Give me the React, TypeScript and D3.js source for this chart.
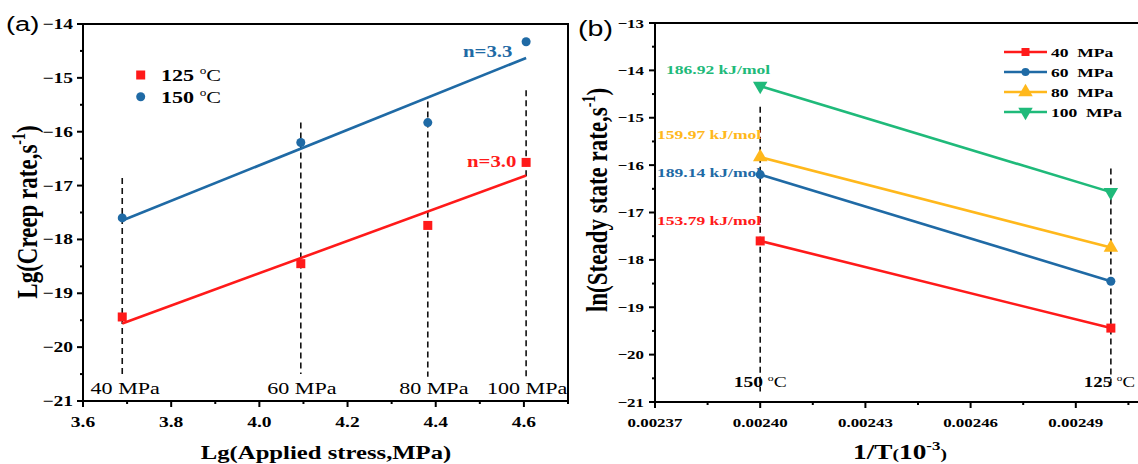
import React, { useEffect } from 'react';
import * as d3 from 'd3';

// ---------- data ----------
const pressureLabels = ['40 MPa', '60 MPa', '80 MPa', '100 MPa'];
const lgStress = [3.689, 4.094, 4.382, 4.605];
const rate125 = [-19.44, -18.45, -17.74, -16.57];
const rate150 = [-17.6, -16.2, -15.83, -14.33];
const guideTopA = [-16.86, -15.83, -15.44, -15.23];
const guideBottomA = [-20.5, -20.5, -20.55, -20.55];
const nLabels = ['n=3.0', 'n=3.3'];
const tempLegend = ['125', '150'];

const invT = [0.0024, 0.0025]; // 150 °C, 125 °C
const tempLabelsB = ['150', '125'];
const guideTopB = [-14.77, -16.07];
const guideBottomB = [-20.78, -20.6];
const energyLabels = ['153.79 kJ/mol', '189.14 kJ/mol', '159.97 kJ/mol', '186.92 kJ/mol'];

const xTicksA = [3.6, 3.8, 4.0, 4.2, 4.4, 4.6];
const xMinorA = [3.7, 3.9, 4.1, 4.3, 4.5, 4.7];
const yTicksA = [-21, -20, -19, -18, -17, -16, -15, -14];
const yMinorA = [-20.5, -19.5, -18.5, -17.5, -16.5, -15.5, -14.5];
const xTicksB = [0.00237, 0.0024, 0.00243, 0.00246, 0.00249];
const xMinorB = [0.002385, 0.002415, 0.002445, 0.002475, 0.002505];
const yTicksB = [-21, -20, -19, -18, -17, -16, -15, -14, -13];
const yMinorB = [-20.5, -19.5, -18.5, -17.5, -16.5, -15.5, -14.5, -13.5];

// ---------- style ----------
const RED = '#FF1A1A';
const BLUE = '#1F6AA5';
const YELLOW = '#FFB81C';
const GREEN = '#1FBA7A';
const seriesColors = [RED, BLUE, YELLOW, GREEN];
const SERIF = '"Liberation Serif", "Times New Roman", serif';
const SANS = '"Liberation Sans", Arial, sans-serif';
const SX = 1.3;

type TP = {
  x: number; y: number; size?: number; weight?: string | number; anchor?: string;
  fill?: string; family?: string; rotate?: boolean; children?: React.ReactNode;
};
function T({ x, y, size = 15, weight = 'bold', anchor = 'start', fill = '#000', family = SERIF, rotate = false, children }: TP) {
  const tr = `translate(${x},${y}) scale(${SX},1)` + (rotate ? ' rotate(-90)' : '');
  return (
    <text transform={tr} fontSize={size} fontWeight={weight} textAnchor={anchor as any} fill={fill} fontFamily={family}>
      {children}
    </text>
  );
}

function Deg({ size }: { size: number }) {
  return (
    <>
      <tspan fontWeight="normal"> </tspan>
      <tspan fontWeight="normal" fontSize={size * 0.6} dy={-size * 0.4}>o</tspan>
      <tspan fontWeight="normal" dy={size * 0.4}>C</tspan>
    </>
  );
}

function linreg(xs: number[], ys: number[]) {
  const mx = d3.mean(xs)!;
  const my = d3.mean(ys)!;
  let sxy = 0, sxx = 0;
  xs.forEach((x, i) => { sxy += (x - mx) * (ys[i] - my); sxx += (x - mx) * (x - mx); });
  const b = sxy / sxx;
  return (x: number) => my + b * (x - mx);
}

function Marker({ kind, x, y, color, s = 9 }: { kind: number; x: number; y: number; color: string; s?: number }) {
  if (kind === 0) return <rect x={x - s / 2} y={y - s / 2} width={s} height={s} fill={color} />;
  if (kind === 1) return <circle cx={x} cy={y} r={s / 2} fill={color} />;
  const sym = d3.symbol().type(d3.symbolTriangle).size(s * s * 0.75)();
  return <path d={sym!} transform={`translate(${x},${y}) rotate(${kind === 3 ? 180 : 0})`} fill={color} />;
}

export default function App() {
  useEffect(() => {
    document.body.style.margin = '0';
  }, []);

  // panel a
  const ax = d3.scaleLinear().domain([3.6, 4.7]).range([83, 568]);
  const ay = d3.scaleLinear().domain([-21, -14]).range([401, 24]);
  const fit125 = linreg(lgStress, rate125);
  const fit150 = linreg(lgStress, rate150);
  const x0 = lgStress[0], x1 = lgStress[lgStress.length - 1];

  // panel b
  const bx = d3.scaleLinear().domain([0.00237, 0.00252]).range([655, 1181]);
  const by = d3.scaleLinear().domain([-21, -13]).range([402, 23]);
  const bSeries = pressureLabels.map((_, i) => [rate150[i], rate125[i]]);
  const bLine = d3.line<number>().x((_, j) => bx(invT[j])).y((d) => by(d));
  const energyPos = [
    { x: 657, y: 225 },
    { x: 657, y: 177 },
    { x: 657, y: 139 },
    { x: 666, y: 74 },
  ];

  const dash = '6,4';

  return (
    <svg width={1138} height={464} style={{ display: 'block', background: '#fff' }}>
      {/* ================= PANEL A ================= */}
      <g>
        {lgStress.map((v, i) => (
          <line key={'ga' + i} x1={ax(v)} x2={ax(v)} y1={ay(guideTopA[i])} y2={ay(guideBottomA[i])}
            stroke="#111" strokeWidth={1.6} strokeDasharray={dash} />
        ))}
        <line x1={ax(x0)} y1={ay(fit125(x0))} x2={ax(x1)} y2={ay(fit125(x1))} stroke={RED} strokeWidth={2.6} />
        <line x1={ax(x0)} y1={ay(fit150(x0))} x2={ax(x1)} y2={ay(fit150(x1))} stroke={BLUE} strokeWidth={2.6} />
        {lgStress.map((v, i) => (
          <Marker key={'r' + i} kind={0} x={ax(v)} y={ay(rate125[i])} color={RED} s={9} />
        ))}
        {lgStress.map((v, i) => (
          <Marker key={'b' + i} kind={1} x={ax(v)} y={ay(rate150[i])} color={BLUE} s={9} />
        ))}
        {lgStress.map((v, i) => (
          <T key={'pl' + i} x={ax(v) + (i === 2 ? 6 : i === 0 ? 3 : 1)} y={394} size={17} weight="normal" anchor="middle">
            {pressureLabels[i]}
          </T>
        ))}
        <T x={467} y={167} size={16} fill={RED}>{nLabels[0]}</T>
        <T x={463} y={57} size={16} fill={BLUE}>{nLabels[1]}</T>
        <Marker kind={0} x={140.7} y={75} color={RED} s={9} />
        <Marker kind={1} x={140.7} y={96.7} color={BLUE} s={9} />
        <T x={161} y={81} size={17}>{tempLegend[0]}<Deg size={17} /></T>
        <T x={161} y={103} size={17}>{tempLegend[1]}<Deg size={17} /></T>

        <rect x={83} y={24} width={485} height={377} fill="none" stroke="#000" strokeWidth={2} />
        {xTicksA.map((t) => (
          <line key={'xt' + t} x1={ax(t)} x2={ax(t)} y1={401} y2={407} stroke="#000" strokeWidth={2} />
        ))}
        {xMinorA.map((t) => (
          <line key={'xm' + t} x1={ax(t)} x2={ax(t)} y1={401} y2={404} stroke="#000" strokeWidth={2} />
        ))}
        {yTicksA.map((t) => (
          <line key={'yt' + t} x1={77} x2={83} y1={ay(t)} y2={ay(t)} stroke="#000" strokeWidth={2} />
        ))}
        {yMinorA.map((t) => (
          <line key={'ym' + t} x1={80} x2={83} y1={ay(t)} y2={ay(t)} stroke="#000" strokeWidth={2} />
        ))}
        {xTicksA.map((t) => (
          <T key={'xl' + t} x={ax(t)} y={427} size={15} anchor="middle">{d3.format('.1f')(t)}</T>
        ))}
        {yTicksA.map((t) => (
          <T key={'yl' + t} x={73} y={ay(t) + 5} size={15} anchor="end">{d3.format('d')(t)}</T>
        ))}
        <T x={326} y={459} size={19} anchor="middle">Lg(Applied stress,MPa)</T>
        <T x={37} y={212} size={23} anchor="middle" rotate>
          Lg(Creep rate,s<tspan fontSize={14} dy={-9}>-1</tspan><tspan dy={9}>)</tspan>
        </T>
        <T x={6} y={31} size={21} weight="normal" family={SANS}>(a)</T>
      </g>

      {/* ================= PANEL B ================= */}
      <g>
        {invT.map((v, j) => (
          <line key={'gb' + j} x1={bx(v)} x2={bx(v)} y1={by(guideTopB[j])} y2={by(guideBottomB[j])}
            stroke="#111" strokeWidth={1.6} strokeDasharray={dash} />
        ))}
        {bSeries.map((s, i) => (
          <path key={'bl' + i} d={bLine(s) || ''} fill="none" stroke={seriesColors[i]} strokeWidth={2.6} />
        ))}
        {bSeries.map((s, i) =>
          s.map((v, j) => (
            <Marker key={'bm' + i + '-' + j} kind={i} x={bx(invT[j])} y={by(v)} color={seriesColors[i]} s={i >= 2 ? 11 : 9} />
          ))
        )}
        {energyLabels.map((e, i) => (
          <T key={'el' + i} x={energyPos[i].x} y={energyPos[i].y} size={13.5} fill={seriesColors[i]}>{e}</T>
        ))}
        <T x={bx(invT[0])} y={387} size={15} anchor="middle">{tempLabelsB[0]}<Deg size={15} /></T>
        <T x={1135} y={387} size={14.5} anchor="end">{tempLabelsB[1]}<Deg size={14.5} /></T>
        {pressureLabels.map((p, i) => (
          <g key={'lg' + i}>
            <line x1={1004} x2={1047} y1={52 + i * 20} y2={52 + i * 20} stroke={seriesColors[i]} strokeWidth={2.6} />
            <Marker kind={i} x={1025.5} y={52 + i * 20} color={seriesColors[i]} s={i >= 2 ? 11 : 8} />
            <T x={1051} y={57 + i * 20} size={13.5}>{p.replace(' ', '\u00a0\u00a0')}</T>
          </g>
        ))}
        <rect x={655} y={23} width={526} height={379} fill="none" stroke="#000" strokeWidth={2} />
        {xTicksB.map((t) => (
          <line key={'bxt' + t} x1={bx(t)} x2={bx(t)} y1={402} y2={408} stroke="#000" strokeWidth={2} />
        ))}
        {xMinorB.map((t) => (
          <line key={'bxm' + t} x1={bx(t)} x2={bx(t)} y1={402} y2={405} stroke="#000" strokeWidth={2} />
        ))}
        {yTicksB.map((t) => (
          <line key={'byt' + t} x1={649} x2={655} y1={by(t)} y2={by(t)} stroke="#000" strokeWidth={2} />
        ))}
        {yMinorB.map((t) => (
          <line key={'bym' + t} x1={652} x2={655} y1={by(t)} y2={by(t)} stroke="#000" strokeWidth={2} />
        ))}
        {xTicksB.map((t) => (
          <T key={'bxl' + t} x={bx(t)} y={427} size={13} anchor="middle">{d3.format('.5f')(t)}</T>
        ))}
        {yTicksB.map((t) => (
          <T key={'byl' + t} x={644} y={by(t) + 4.5} size={13} anchor="end">{d3.format('d')(t)}</T>
        ))}
        <T x={900} y={459} size={21} anchor="middle">
          1/T<tspan fontSize={15}>(</tspan>10<tspan fontSize={13} dy={-9}>-3</tspan><tspan fontSize={15} dy={9}>)</tspan>
        </T>
        <T x={607} y={200} size={23} anchor="middle" rotate>
          ln(Steady state rate,s<tspan fontSize={14} dy={-9}>-1</tspan><tspan dy={9}>)</tspan>
        </T>
        <T x={578} y={36} size={22} weight="normal" family={SANS}>(b)</T>
      </g>
    </svg>
  );
}
